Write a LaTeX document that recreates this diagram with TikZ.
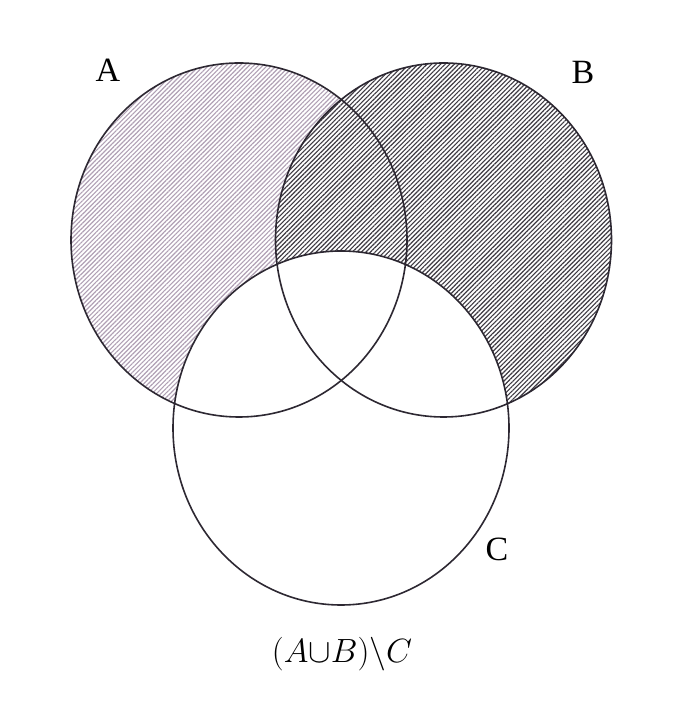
\documentclass[tikz,border=0pt]{standalone}
\usepackage{fontspec}
\setmainfont{Liberation Serif}
\usepackage{tikz}
\usetikzlibrary{patterns.meta}
\definecolor{hatchA}{RGB}{176,160,180}
\definecolor{hatchB}{RGB}{62,58,66}
\definecolor{rim}{RGB}{45,40,50}

\tikzset{
  setline/.style={line width=1.6pt,draw=rim},
  lbl/.style={font=\fontsize{34}{36}\selectfont,inner sep=0pt},
  hatch/.style={pattern={Lines[angle=45,distance=3.2pt,line width=1.15pt]},pattern color=#1}
}

\begin{document}
\begin{tikzpicture}[x=1pt,y=1pt]
\useasboundingbox (0,0) rectangle (680,704);
\coordinate (A) at (239,464);
\coordinate (B) at (443.5,464);
\coordinate (C) at (341,276);
% shaded part (A u B) \ C
\fill[hatch=hatchA] (A) ellipse[x radius=168,y radius=177];
\fill[white] (B) ellipse[x radius=168,y radius=177];
\fill[hatch=hatchB] (B) ellipse[x radius=168,y radius=177];
\fill[white] (C) ellipse[x radius=168,y radius=177];
\foreach \s in {A,B,C}
  \draw[setline] (\s) ellipse[x radius=168,y radius=177];
\node[lbl] (labA) at (108,634) {A};
\node[lbl] (labB) at (583,632) {B};
\node[lbl] (labC) at (497,155) {C};
\node[font=\huge,scale=1.62] (cap) at (342,50) {$(A{\cup}B){\setminus}C$};
\end{tikzpicture}
\end{document}
